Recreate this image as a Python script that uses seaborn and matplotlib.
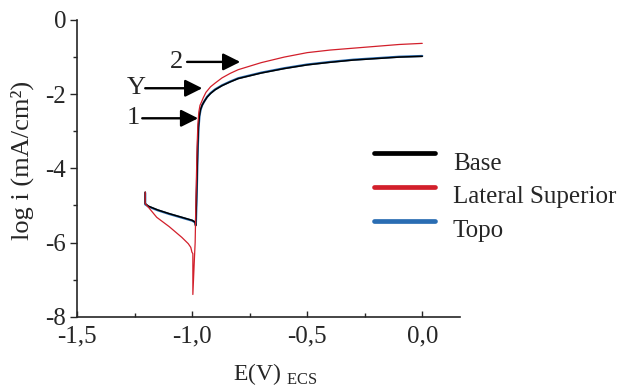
import numpy as np
import pandas as pd
import seaborn as sns
import matplotlib.pyplot as plt
from matplotlib.lines import Line2D
from matplotlib.legend_handler import HandlerLine2D
from matplotlib.ticker import FuncFormatter, FixedLocator

# potentiodynamic curves, E (V vs ECS) and log i (mA/cm2)
base_E = [-1.204, -1.204, -1.19, -1.15, -1.10, -1.05, -1.00, -0.987, -0.985, -0.982, -0.979, -0.976,
          -0.973, -0.969, -0.964, -0.957, -0.948, -0.935, -0.92, -0.90, -0.87, -0.835, -0.80, -0.70,
          -0.60, -0.50, -0.40, -0.30, -0.20, -0.10, 0.00]
base_logi = [-4.64, -4.95, -5.02, -5.12, -5.22, -5.31, -5.40, -5.45, -5.55, -5.00, -4.20, -3.40,
             -2.90, -2.60, -2.42, -2.30, -2.20, -2.08, -1.98, -1.88, -1.77, -1.67, -1.58, -1.43,
             -1.31, -1.21, -1.14, -1.08, -1.04, -1.00, -0.98]

lat_E = [-1.204, -1.204, -1.19, -1.154, -1.10, -1.045, -1.017, -1.006, -1.001, -0.997, -0.997,
         -0.990, -0.987, -0.984, -0.981, -0.978, -0.975, -0.971, -0.966, -0.960, -0.952, -0.94,
         -0.92, -0.90, -0.87, -0.835, -0.80, -0.70, -0.60, -0.50, -0.40, -0.30, -0.20, -0.10, 0.00]
lat_logi = [-4.64, -4.95, -5.05, -5.32, -5.57, -5.86, -6.03, -6.13, -6.26, -6.30, -7.40,
            -6.40, -6.00, -5.00, -4.10, -3.30, -2.80, -2.48, -2.30, -2.22, -2.10, -1.95,
            -1.80, -1.70, -1.56, -1.44, -1.34, -1.15, -1.00, -0.88, -0.81, -0.76, -0.71, -0.66, -0.63]

topo_E = [-1.204, -1.204, -1.19, -1.15, -1.10, -1.05, -1.00, -0.986, -0.984, -0.981, -0.978, -0.975,
          -0.972, -0.968, -0.963, -0.956, -0.947, -0.935, -0.92, -0.90, -0.87, -0.835, -0.80, -0.70,
          -0.60, -0.50, -0.40, -0.30, -0.20, -0.10, 0.00]
topo_logi = [-4.66, -4.97, -5.03, -5.13, -5.23, -5.32, -5.41, -5.46, -5.52, -4.90, -4.10, -3.35,
             -2.88, -2.58, -2.41, -2.29, -2.19, -2.07, -1.97, -1.87, -1.76, -1.66, -1.57, -1.42,
             -1.30, -1.20, -1.13, -1.07, -1.03, -0.99, -0.97]

labels = ['Base', 'Lateral Superior', 'Topo']
colors = {'Base': '#000000', 'Lateral Superior': '#d21f2b', 'Topo': '#2a6db3'}

df = pd.concat([
    pd.DataFrame({'E': base_E, 'logi': base_logi, 'Amostra': 'Base'}),
    pd.DataFrame({'E': lat_E, 'logi': lat_logi, 'Amostra': 'Lateral Superior'}),
    pd.DataFrame({'E': topo_E, 'logi': topo_logi, 'Amostra': 'Topo'}),
], ignore_index=True)

sns.set_style('ticks')
plt.rcParams['font.family'] = ['Liberation Serif', 'DejaVu Serif']
plt.rcParams['mathtext.fontset'] = 'custom'
plt.rcParams['mathtext.rm'] = 'Liberation Serif'
plt.rcParams['axes.unicode_minus'] = False

fig = plt.figure(figsize=(6.27, 3.92), dpi=100)
ax = fig.add_axes([0.123, 0.192, 0.611, 0.757])

# draw topo first so base sits on top of it
for name, lw in [('Topo', 1.6), ('Base', 1.1), ('Lateral Superior', 0.9)]:
    sns.lineplot(data=df[df['Amostra'] == name], x='E', y='logi', color=colors[name],
                 sort=False, estimator=None, lw=lw, ax=ax, legend=False)

ax.set_xlim(-1.5, 0.165)
ax.set_ylim(-8, 0)
ax.xaxis.set_major_locator(FixedLocator([-1.5, -1.0, -0.5, 0.0]))
ax.xaxis.set_minor_locator(FixedLocator([-1.25, -0.75, -0.25]))
ax.yaxis.set_major_locator(FixedLocator([0, -2, -4, -6, -8]))
ax.yaxis.set_minor_locator(FixedLocator([-1, -3, -5, -7]))
ax.xaxis.set_major_formatter(FuncFormatter(lambda v, p: f"{v:.1f}".replace('.', ',')))
ax.yaxis.set_major_formatter(FuncFormatter(lambda v, p: f"{v:.0f}"))
ax.tick_params(axis='x', which='major', direction='in', length=4, width=1, labelsize=18, pad=6)
ax.tick_params(axis='x', which='minor', direction='in', length=3, width=1)
ax.tick_params(axis='y', which='major', direction='out', length=5, width=1, labelsize=18, pad=3)
ax.tick_params(axis='y', which='minor', direction='out', length=3, width=1)
sns.despine(ax=ax)
for s in ['left', 'bottom']:
    ax.spines[s].set_linewidth(1.2)

ax.set_xlabel('')
ax.set_ylabel('')
fig.text(22 / 627, 1 - 160 / 392, 'log i (mA/cm²)', rotation=90, ha='center', va='center', fontsize=19)
fig.text(275 / 627, 1 - 374 / 392, r'E(V) $_{\mathrm{ECS}}$', ha='center', va='center', fontsize=17)

# arrows
arrow = dict(arrowstyle='-|>', color='black', lw=1.7, mutation_scale=26, shrinkA=0, shrinkB=0)
for txt, x0, x1, y, tx in [('2', -1.022, -0.791, -1.13, -1.068),
                          ('Y', -1.204, -0.956, -1.84, -1.245),
                          ('1', -1.217, -0.974, -2.65, -1.257)]:
    ax.annotate('', xy=(x1, y), xytext=(x0, y), arrowprops=arrow)
    ax.text(tx, y, txt, ha='center', va='center', fontsize=19)


class RaisedLine(HandlerLine2D):
    def create_artists(self, legend, orig_handle, xdescent, ydescent, width, height, fontsize, trans):
        return super().create_artists(legend, orig_handle, xdescent, ydescent - 0.85 * height,
                                      width, height, fontsize, trans)


handles = [Line2D([], [], color=colors[n], lw=3.4) for n in labels]
leg = fig.legend(handles, labels, loc='upper left', bbox_to_anchor=(374 / 627, 1 - 152 / 392),
                 frameon=False, fontsize=18, handlelength=2.45, handletextpad=0.7,
                 labelspacing=0.45, borderpad=0, borderaxespad=0,
                 handler_map={Line2D: RaisedLine()})

fig.savefig('out.png', dpi=100)
